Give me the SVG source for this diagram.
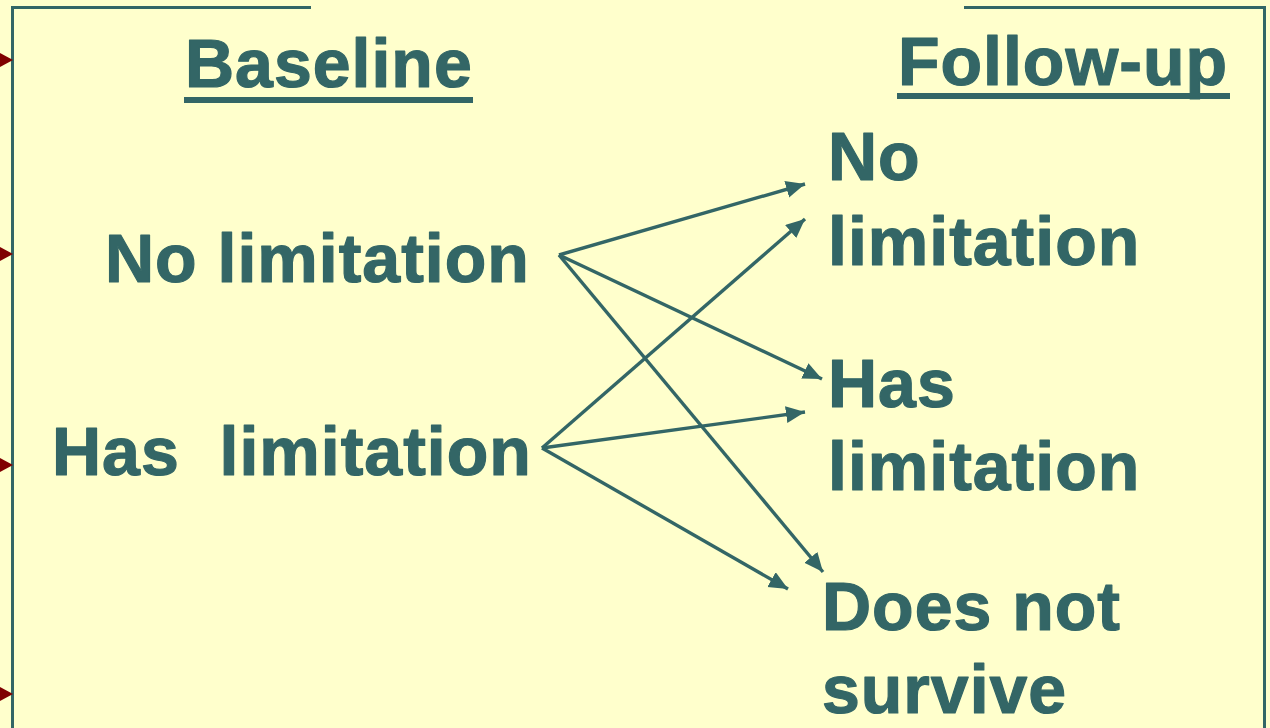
<svg xmlns="http://www.w3.org/2000/svg" width="1270" height="728" viewBox="0 0 1270 728">
<style>
.t{font-family:"Liberation Sans",Arial,sans-serif;font-weight:bold;font-size:68px;letter-spacing:1px;fill:#336666;stroke:#336666;stroke-width:1.2px;stroke-linejoin:round}
.c{stroke:#336666;stroke-width:3.4;fill:none;marker-end:url(#ah)}
.f{stroke:#336666;stroke-width:3;fill:none}
.u{fill:#336666}
.r{fill:#800000}
</style>
<defs>
<marker id="ah" markerUnits="userSpaceOnUse" markerWidth="22" markerHeight="20" refX="19" refY="8.5" orient="auto">
<path d="M0,0 L19,8.5 L0,17 Z" fill="#336666"/>
</marker>
</defs>
<rect width="1270" height="728" fill="#FFFFCC"/>
<g id="frame">
<polyline class="f" points="12.5,728 12.5,7.5 311,7.5"/>
<polyline class="f" points="964,7.5 1264.5,7.5 1264.5,728"/>
<path class="r" d="M0,53 L13,60 L0,67 Z"/>
<path class="r" d="M0,247 L13,254 L0,261 Z"/>
<path class="r" d="M0,458 L13,465 L0,472 Z"/>
<path class="r" d="M0,687 L13,694 L0,701 Z"/>
</g>
<g id="baseline-header">
<text class="t" x="185" y="87">Baseline</text>
<rect class="u" x="184" y="97" width="289" height="6"/>
</g>
<g id="followup-header">
<text class="t" x="898" y="85">Follow-up</text>
<rect class="u" x="897" y="93" width="333" height="6"/>
</g>
<g id="base-no">
<text class="t" x="105" y="282">No limitation</text>
</g>
<g id="base-has">
<text class="t" x="52" y="475" xml:space="preserve">Has  limitation</text>
</g>
<g id="fu-no">
<text class="t" x="828" y="180">No</text>
<text class="t" x="828" y="265">limitation</text>
</g>
<g id="fu-has">
<text class="t" x="828" y="407">Has</text>
<text class="t" x="828" y="490">limitation</text>
</g>
<g id="fu-dead">
<text class="t" x="822" y="630">Does not</text>
<text class="t" x="822" y="713">survive</text>
</g>
<g id="connectors">
<line class="c" x1="559" y1="255" x2="805" y2="184"/>
<line class="c" x1="559" y1="255" x2="822" y2="379"/>
<line class="c" x1="559" y1="255" x2="823" y2="572"/>
<line class="c" x1="542" y1="448" x2="805" y2="219"/>
<line class="c" x1="542" y1="448" x2="805" y2="412"/>
<line class="c" x1="542" y1="448" x2="788" y2="589"/>
</g>
</svg>
